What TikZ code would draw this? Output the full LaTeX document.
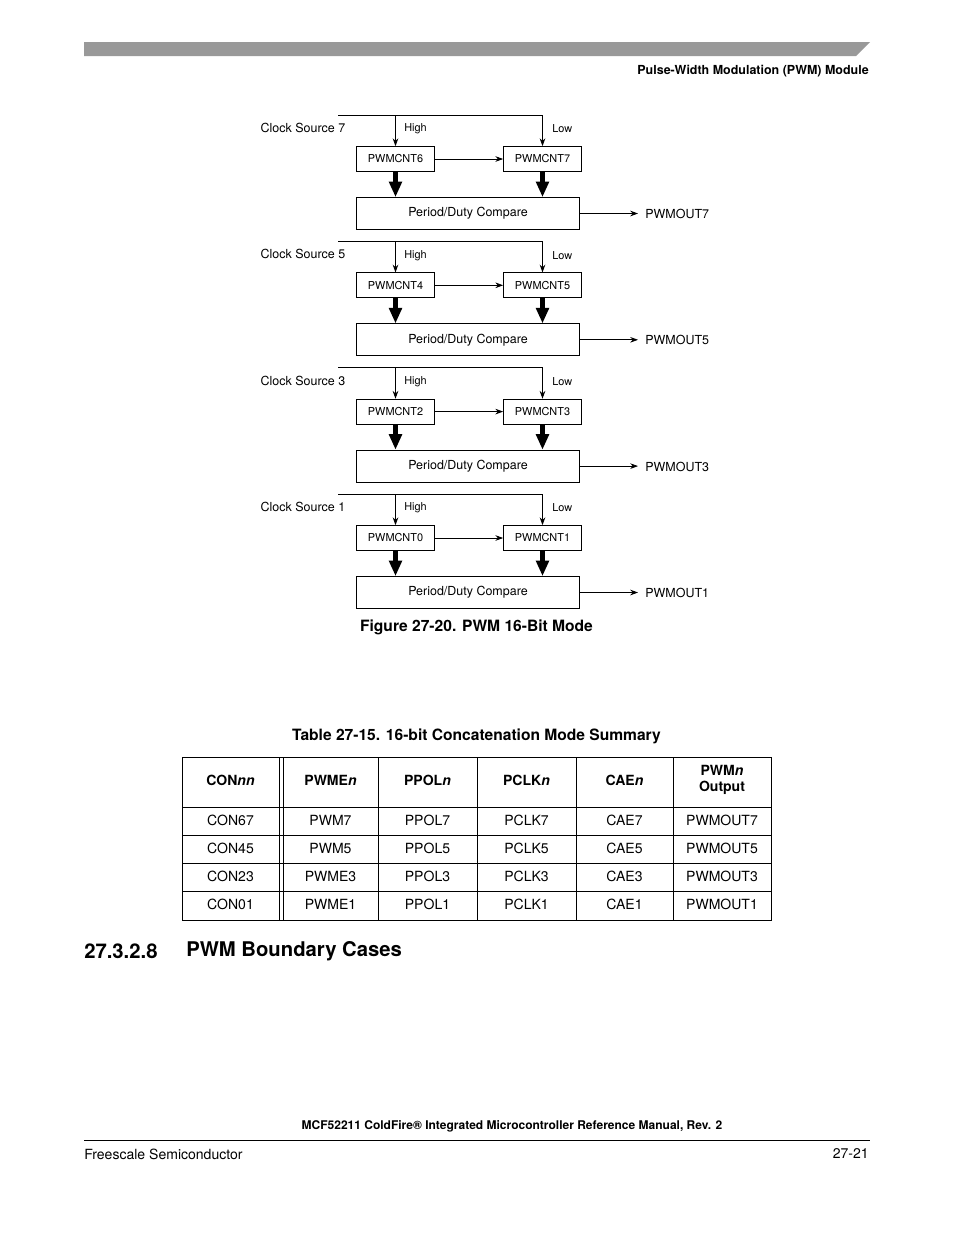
\documentclass[tikz,border=0pt]{standalone}
\usepackage{fontspec}
\setmainfont{TeX Gyre Heros}
\usetikzlibrary{arrows.meta}
\begin{document}
\begin{tikzpicture}[x=0.6415pt,y=-0.6415pt]
\tikzstyle{every node}+=[inner sep=0pt]
\tikzstyle{cntbox}=[draw, line width=0.5pt, minimum width=50pt, minimum height=16pt, font=\fontsize{7}{8}\selectfont]
\tikzstyle{cmpbox}=[draw, line width=0.5pt, minimum width=143pt, minimum height=20.5pt, font=\fontsize{8}{9}\selectfont]
\tikzstyle{lbl}=[font=\fontsize{8}{9}\selectfont]
\tikzstyle{sml}=[font=\fontsize{7}{8}\selectfont]
\tikzstyle{outlbl}=[font=\fontsize{8}{9}\selectfont, anchor=west, inner xsep=4.5pt]
\tikzstyle{wire}=[line width=0.5pt, -{Stealth[length=5pt,width=3.6pt]}]
\tikzstyle{bus}=[line width=2.6pt, -{Triangle[length=10pt,width=8pt]}]
\tikzstyle{grid}=[line width=0.6pt]
\tikzstyle{cell}=[font=\fontsize{9}{10}\selectfont]
\tikzstyle{head}=[font=\fontsize{9}{10.5}\selectfont\bfseries, align=center]
\useasboundingbox (0,0) rectangle (954,1235);
\fill [white] (0,0) rectangle (954,1235);
% page header
\fill [black!40] (84,42) -- (870,42) -- (856,56) -- (84,56) -- cycle;
\node [anchor=east, font=\fontsize{8}{9}\selectfont\bfseries] (hdr) at (869,71) {Pulse-Width Modulation (PWM) Module};
% channels 6/7
\coordinate (clk7) at (338,115);
\node [lbl, anchor=east] (src7) at (345.5,128) {Clock Source 7};
\node [sml, anchor=west] (hi7) at (404,129) {High};
\node [sml, anchor=west] (lo7) at (552,129) {Low};
\node [cntbox] (cnt6) at (395.5,159) {PWMCNT6};
\node [cntbox] (cnt7) at (542.5,159) {PWMCNT7};
\node [cmpbox] (cmp7) at (468,213.5) {Period/Duty Compare};
\node [outlbl] (out7) at (638,214) {PWMOUT7};
\draw [wire] (clk7) -| (cnt7.north);
\draw [wire] (cnt6.north |- clk7) -- (cnt6.north);
\draw [wire] (cnt6) -- (cnt7);
\draw [bus] (cnt6.south) -- (cnt6.south |- cmp7.north);
\draw [bus] (cnt7.south) -- (cnt7.south |- cmp7.north);
\draw [wire] (cmp7.east) -- (cmp7.east -| out7.west);
% channels 4/5
\coordinate (clk5) at (338,241.3);
\node [lbl, anchor=east] (src5) at (345.5,254.3) {Clock Source 5};
\node [sml, anchor=west] (hi5) at (404,255.3) {High};
\node [sml, anchor=west] (lo5) at (552,255.3) {Low};
\node [cntbox] (cnt4) at (395.5,285.3) {PWMCNT4};
\node [cntbox] (cnt5) at (542.5,285.3) {PWMCNT5};
\node [cmpbox] (cmp5) at (468,339.8) {Period/Duty Compare};
\node [outlbl] (out5) at (638,340.3) {PWMOUT5};
\draw [wire] (clk5) -| (cnt5.north);
\draw [wire] (cnt4.north |- clk5) -- (cnt4.north);
\draw [wire] (cnt4) -- (cnt5);
\draw [bus] (cnt4.south) -- (cnt4.south |- cmp5.north);
\draw [bus] (cnt5.south) -- (cnt5.south |- cmp5.north);
\draw [wire] (cmp5.east) -- (cmp5.east -| out5.west);
% channels 2/3
\coordinate (clk3) at (338,367.6);
\node [lbl, anchor=east] (src3) at (345.5,380.6) {Clock Source 3};
\node [sml, anchor=west] (hi3) at (404,381.6) {High};
\node [sml, anchor=west] (lo3) at (552,381.6) {Low};
\node [cntbox] (cnt2) at (395.5,411.6) {PWMCNT2};
\node [cntbox] (cnt3) at (542.5,411.6) {PWMCNT3};
\node [cmpbox] (cmp3) at (468,466.1) {Period/Duty Compare};
\node [outlbl] (out3) at (638,466.6) {PWMOUT3};
\draw [wire] (clk3) -| (cnt3.north);
\draw [wire] (cnt2.north |- clk3) -- (cnt2.north);
\draw [wire] (cnt2) -- (cnt3);
\draw [bus] (cnt2.south) -- (cnt2.south |- cmp3.north);
\draw [bus] (cnt3.south) -- (cnt3.south |- cmp3.north);
\draw [wire] (cmp3.east) -- (cmp3.east -| out3.west);
% channels 0/1
\coordinate (clk1) at (338,494);
\node [lbl, anchor=east] (src1) at (345.5,507) {Clock Source 1};
\node [sml, anchor=west] (hi1) at (404,508) {High};
\node [sml, anchor=west] (lo1) at (552,508) {Low};
\node [cntbox] (cnt0) at (395.5,538) {PWMCNT0};
\node [cntbox] (cnt1) at (542.5,538) {PWMCNT1};
\node [cmpbox] (cmp1) at (468,592.5) {Period/Duty Compare};
\node [outlbl] (out1) at (638,593) {PWMOUT1};
\draw [wire] (clk1) -| (cnt1.north);
\draw [wire] (cnt0.north |- clk1) -- (cnt0.north);
\draw [wire] (cnt0) -- (cnt1);
\draw [bus] (cnt0.south) -- (cnt0.south |- cmp1.north);
\draw [bus] (cnt1.south) -- (cnt1.south |- cmp1.north);
\draw [wire] (cmp1.east) -- (cmp1.east -| out1.west);
\node [font=\fontsize{10}{12}\selectfont\bfseries] (figcap) at (476.5,627) {Figure 27-20. PWM 16-Bit Mode};
% summary table
\node [font=\fontsize{10}{12}\selectfont\bfseries] (tabcap) at (476.5,736) {Table 27-15. 16-bit Concatenation Mode Summary};
\draw [grid] (182,757) rectangle (771,920);
\draw [grid] (182,807) -- (771,807);
\draw [grid] (182,835) -- (771,835);
\draw [grid] (182,863) -- (771,863);
\draw [grid] (182,891) -- (771,891);
\draw [grid] (279,757) -- (279,920);
\draw [grid] (283,757) -- (283,920);
\draw [grid] (378,757) -- (378,920);
\draw [grid] (477,757) -- (477,920);
\draw [grid] (576,757) -- (576,920);
\draw [grid] (673,757) -- (673,920);
\node [head] (h1) at (230.5,780) {CON\textit{nn}};
\node [head] (h2) at (330.5,780) {PWME\textit{n}};
\node [head] (h3) at (427.5,780) {PPOL\textit{n}};
\node [head] (h4) at (526.5,780) {PCLK\textit{n}};
\node [head] (h5) at (624.5,780) {CAE\textit{n}};
\node [head] (h6) at (722,780) {PWM\textit{n}\\Output};
\node [cell] (c11) at (230.5,820) {CON67};
\node [cell] (c12) at (330.5,820) {PWM7};
\node [cell] (c13) at (427.5,820) {PPOL7};
\node [cell] (c14) at (526.5,820) {PCLK7};
\node [cell] (c15) at (624.5,820) {CAE7};
\node [cell] (c16) at (722,820) {PWMOUT7};
\node [cell] (c21) at (230.5,848) {CON45};
\node [cell] (c22) at (330.5,848) {PWM5};
\node [cell] (c23) at (427.5,848) {PPOL5};
\node [cell] (c24) at (526.5,848) {PCLK5};
\node [cell] (c25) at (624.5,848) {CAE5};
\node [cell] (c26) at (722,848) {PWMOUT5};
\node [cell] (c31) at (230.5,876) {CON23};
\node [cell] (c32) at (330.5,876) {PWME3};
\node [cell] (c33) at (427.5,876) {PPOL3};
\node [cell] (c34) at (526.5,876) {PCLK3};
\node [cell] (c35) at (624.5,876) {CAE3};
\node [cell] (c36) at (722,876) {PWMOUT3};
\node [cell] (c41) at (230.5,904) {CON01};
\node [cell] (c42) at (330.5,904) {PWME1};
\node [cell] (c43) at (427.5,904) {PPOL1};
\node [cell] (c44) at (526.5,904) {PCLK1};
\node [cell] (c45) at (624.5,904) {CAE1};
\node [cell] (c46) at (722,904) {PWMOUT1};
% section heading
\node [anchor=west, font=\fontsize{13}{15}\selectfont\bfseries] (secno) at (84,951) {27.3.2.8};
\node [anchor=west, font=\fontsize{13}{15}\selectfont\bfseries] (sectitle) at (186,951) {PWM Boundary Cases};
% page footer
\node [font=\fontsize{7.7}{9}\selectfont\bfseries] (manual) at (512,1126) {MCF52211 ColdFire® Integrated Microcontroller Reference Manual, Rev. 2};
\draw [line width=0.6pt] (84,1140) -- (870,1140);
\node [anchor=west, font=\fontsize{9}{10}\selectfont] (vendor) at (84,1154) {Freescale Semiconductor};
\node [anchor=east, font=\fontsize{9}{10}\selectfont] (pageno) at (869,1154) {27-21};
\end{tikzpicture}
\end{document}
